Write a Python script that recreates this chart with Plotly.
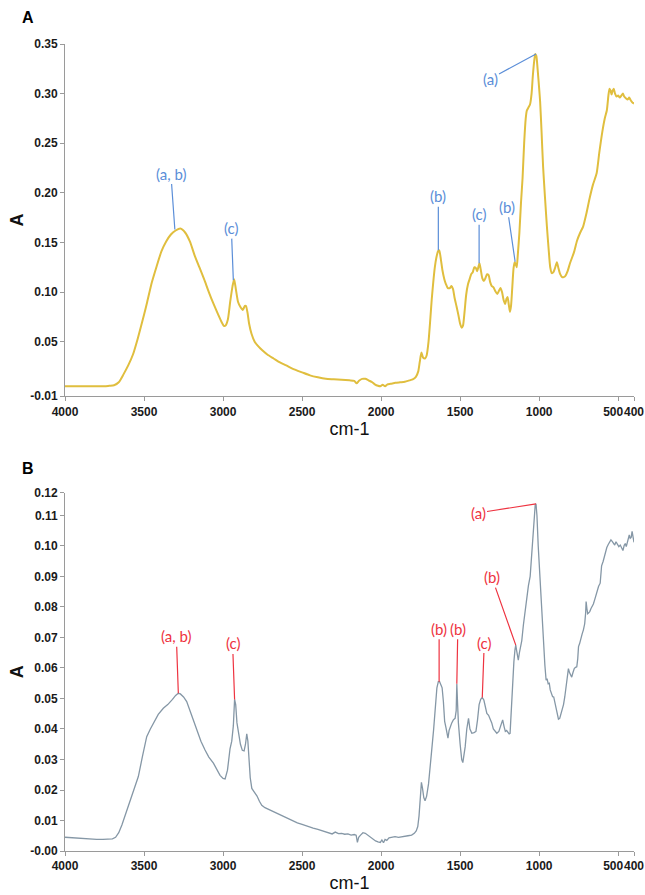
import plotly.graph_objects as go

# ---------------- data ----------------
wn_a = [4000, 3900, 3800, 3750, 3720, 3690, 3660, 3630, 3600, 3570, 3540, 3500, 3480, 3450, 3420, 3390,
        3360, 3330, 3300, 3270, 3240, 3210, 3180, 3150, 3120, 3090, 3060, 3030, 3010, 2995, 2985, 2970,
        2955, 2940, 2930, 2920, 2905, 2890, 2875, 2862, 2855, 2845, 2835, 2820, 2800, 2775, 2750, 2720,
        2680, 2640, 2600, 2550, 2500, 2450, 2400, 2350, 2300, 2250, 2200, 2170, 2155, 2140, 2120, 2100,
        2080, 2060, 2040, 2020, 2005, 1990, 1975, 1960, 1940, 1910, 1880, 1850, 1820, 1800, 1780, 1765,
        1755, 1745, 1735, 1722, 1712, 1700, 1690, 1680, 1670, 1660, 1650, 1640, 1632, 1622, 1612, 1600,
        1590, 1578, 1565, 1555, 1545, 1535, 1522, 1510, 1500, 1490, 1482, 1472, 1462, 1450, 1440, 1430,
        1420, 1410, 1400, 1393, 1385, 1378, 1370, 1360, 1350, 1340, 1330, 1320, 1310, 1300, 1290, 1278,
        1265, 1255, 1245, 1235, 1225, 1215, 1207, 1200, 1192, 1185, 1178, 1170, 1162, 1155, 1148, 1142,
        1135, 1125, 1115, 1105, 1095, 1085, 1078, 1068, 1058, 1048, 1040, 1032, 1025, 1018, 1010, 1000,
        994, 985, 975, 963, 951, 940, 930, 920, 910, 900, 888, 878, 867, 855, 845, 835, 820, 805, 780,
        760, 740, 722, 700, 680, 660, 636, 620, 600, 585, 572, 562, 555, 548, 542, 535, 528, 520, 510,
        500, 490, 480, 470, 462, 450, 440, 430, 420, 410, 400]
abs_a = [0.005, 0.005, 0.005, 0.005, 0.0055, 0.006, 0.009, 0.017, 0.026, 0.037, 0.053, 0.077, 0.09, 0.11,
         0.126, 0.141, 0.151, 0.158, 0.162, 0.164, 0.16, 0.151, 0.137, 0.125, 0.113, 0.1, 0.088, 0.077,
         0.07, 0.066, 0.066, 0.072, 0.09, 0.106, 0.113, 0.104, 0.09, 0.085, 0.082, 0.086, 0.086, 0.079,
         0.068, 0.058, 0.05, 0.045, 0.041, 0.037, 0.033, 0.029, 0.026, 0.022, 0.019, 0.016, 0.014, 0.0125,
         0.012, 0.0115, 0.011, 0.0105, 0.008, 0.0105, 0.0125, 0.0125, 0.011, 0.0095, 0.007, 0.0055, 0.005,
         0.0065, 0.005, 0.007, 0.0075, 0.0085, 0.009, 0.0095, 0.011, 0.012, 0.0145, 0.02, 0.03, 0.039,
         0.034, 0.033, 0.036, 0.05, 0.07, 0.092, 0.11, 0.125, 0.135, 0.141, 0.142, 0.133, 0.122, 0.113,
         0.108, 0.104, 0.104, 0.106, 0.103, 0.094, 0.085, 0.076, 0.068, 0.064, 0.066, 0.08, 0.097, 0.108,
         0.113, 0.118, 0.12, 0.125, 0.124, 0.121, 0.125, 0.129, 0.123, 0.114, 0.111, 0.114, 0.118, 0.117,
         0.11, 0.106, 0.105, 0.101, 0.098, 0.101, 0.104, 0.1, 0.092, 0.088, 0.093, 0.095, 0.087, 0.08,
         0.086, 0.105, 0.124, 0.13, 0.128, 0.125, 0.138, 0.16, 0.19, 0.215, 0.25, 0.275, 0.283, 0.286,
         0.289, 0.3, 0.318, 0.332, 0.34, 0.338, 0.325, 0.305, 0.292, 0.262, 0.226, 0.195, 0.166, 0.143,
         0.125, 0.119, 0.12, 0.124, 0.13, 0.124, 0.118, 0.115, 0.115, 0.116, 0.121, 0.129, 0.14, 0.152,
         0.16, 0.166, 0.18, 0.195, 0.208, 0.22, 0.24, 0.262, 0.275, 0.283, 0.298, 0.305, 0.303, 0.299,
         0.303, 0.305, 0.3, 0.297, 0.298, 0.296, 0.298, 0.3, 0.297, 0.295, 0.294, 0.296, 0.293, 0.291,
         0.29]

wn_b = [4000, 3950, 3900, 3850, 3800, 3760, 3730, 3700, 3680, 3660, 3640, 3620, 3600, 3580, 3557, 3536,
        3510, 3483, 3460, 3441, 3410, 3378, 3350, 3320, 3300, 3283, 3270, 3250, 3230, 3200, 3167, 3140,
        3114, 3090, 3061, 3040, 3019, 3000, 2987, 2972, 2956, 2945, 2935, 2927, 2920, 2912, 2903, 2890,
        2878, 2867, 2858, 2850, 2843, 2835, 2828, 2818, 2808, 2795, 2785, 2770, 2755, 2735, 2715, 2693,
        2670, 2640, 2610, 2589, 2560, 2530, 2500, 2480, 2458, 2430, 2400, 2370, 2350, 2329, 2310, 2290,
        2270, 2250, 2230, 2210, 2190, 2170, 2158, 2150, 2142, 2130, 2115, 2100, 2085, 2067, 2050, 2035,
        2020, 2005, 1995, 1985, 1975, 1964, 1950, 1935, 1912, 1890, 1873, 1850, 1830, 1807, 1790, 1778,
        1768, 1760, 1752, 1745, 1738, 1730, 1722, 1712, 1700, 1690, 1680, 1668, 1657, 1647, 1638, 1630,
        1622, 1614, 1606, 1598, 1590, 1584, 1577, 1570, 1562, 1553, 1543, 1532, 1525, 1521, 1516, 1511,
        1500, 1490, 1483, 1476, 1468, 1458, 1447, 1438, 1426, 1412, 1400, 1390, 1380, 1370, 1360, 1350,
        1340, 1331, 1320, 1310, 1300, 1290, 1280, 1268, 1255, 1245, 1238, 1231, 1222, 1214, 1206, 1198,
        1190, 1184, 1178, 1172, 1167, 1160, 1153, 1148, 1142, 1137, 1132, 1125, 1117, 1110, 1100, 1090,
        1079, 1068, 1057, 1048, 1040, 1032, 1025, 1020, 1014, 1006, 998, 990, 982, 972, 964, 956, 950,
        943, 936, 930, 922, 915, 908, 900, 893, 886, 878, 870, 862, 854, 846, 838, 830, 822, 815, 808,
        800, 794, 786, 778, 770, 762, 756, 751, 744, 736, 728, 720, 712, 706, 703, 698, 693, 688, 680,
        672, 664, 657, 648, 640, 632, 624, 614, 605, 595, 588, 580, 572, 563, 555, 546, 538, 530, 522,
        514, 505, 496, 487, 478, 470, 462, 455, 449, 440, 434, 430, 424, 418, 412, 406, 400]
abs_b = [0.0045, 0.0043, 0.0041, 0.004, 0.0038, 0.0038, 0.0038, 0.004, 0.0045, 0.006, 0.0085, 0.0115,
         0.0145, 0.0175, 0.021, 0.0244, 0.031, 0.0375, 0.04, 0.042, 0.0448, 0.0468, 0.048, 0.0497, 0.051,
         0.0517, 0.0515, 0.0505, 0.049, 0.0447, 0.0397, 0.036, 0.0331, 0.0308, 0.0288, 0.027, 0.0248,
         0.0238, 0.0236, 0.0265, 0.0335, 0.036, 0.041, 0.0497, 0.048, 0.042, 0.039, 0.035, 0.033, 0.0328,
         0.035, 0.0384, 0.036, 0.03, 0.024, 0.0205, 0.0198, 0.019, 0.018, 0.0163, 0.015, 0.0142, 0.0137,
         0.0132, 0.0125, 0.0117, 0.011, 0.0105, 0.0098, 0.0092, 0.0087, 0.0083, 0.0079, 0.0075, 0.0071,
         0.0066, 0.0063, 0.0061, 0.0056, 0.0062, 0.0057, 0.0058, 0.0055, 0.0056, 0.0052, 0.0054, 0.0052,
         0.0028, 0.0045, 0.0052, 0.006, 0.0058, 0.0052, 0.0047, 0.004, 0.0033, 0.003, 0.0028, 0.0036,
         0.0027, 0.0038, 0.0035, 0.0043, 0.0045, 0.0047, 0.0045, 0.0047, 0.0048, 0.005, 0.0052, 0.0058,
         0.0066, 0.008, 0.0115, 0.018, 0.0225, 0.0205, 0.0175, 0.0165, 0.018, 0.022, 0.0265, 0.033,
         0.0397, 0.047, 0.0535, 0.0555, 0.0555, 0.0545, 0.0535, 0.049, 0.0425, 0.0405, 0.0386, 0.037,
         0.0395, 0.041, 0.042, 0.043, 0.0435, 0.046, 0.0548, 0.048, 0.042, 0.035, 0.03, 0.029, 0.031,
         0.0342, 0.04, 0.0435, 0.04, 0.0386, 0.0388, 0.0392, 0.043, 0.048, 0.0497, 0.0503, 0.0495, 0.0472,
         0.0451, 0.0445, 0.0432, 0.042, 0.04, 0.0392, 0.0386, 0.0392, 0.041, 0.0425, 0.043, 0.0408, 0.0392,
         0.0395, 0.0388, 0.0384, 0.0386, 0.045, 0.052, 0.056, 0.062, 0.066, 0.0675, 0.0655, 0.0632, 0.0626,
         0.065, 0.067, 0.069, 0.074, 0.078, 0.0834, 0.087, 0.09, 0.096, 0.103, 0.109, 0.1135, 0.1138, 0.11,
         0.1, 0.092, 0.083, 0.075, 0.067, 0.061, 0.056, 0.0565, 0.0548, 0.055, 0.0528, 0.0515, 0.0506,
         0.0505, 0.0488, 0.047, 0.0455, 0.0432, 0.0435, 0.045, 0.0468, 0.048, 0.0505, 0.0535, 0.058, 0.0598,
         0.0585, 0.0575, 0.057, 0.0585, 0.0598, 0.0602, 0.0604, 0.063, 0.067, 0.068, 0.07, 0.0712, 0.0725,
         0.0745, 0.078, 0.0818, 0.0795, 0.0778, 0.078, 0.0785, 0.0795, 0.0802, 0.081, 0.0825, 0.084,
         0.0855, 0.0868, 0.0878, 0.0935, 0.095, 0.0965, 0.0976, 0.0995, 0.1005, 0.1015, 0.102, 0.1015,
         0.1008, 0.1003, 0.1014, 0.1005, 0.0998, 0.1003, 0.099, 0.0985, 0.1002, 0.1008, 0.0998, 0.1015,
         0.1032, 0.1036, 0.1025, 0.1028, 0.1048, 0.103, 0.1012]

x_tick_vals = [4000, 3500, 3000, 2500, 2000, 1500, 1000, 500, 400]
x_tick_text = ["4000", "3500", "3000", "2500", "2000", "1500", "1000",
               "500\u00a0\u00a0\u00a0", "400"]
ya_tick_vals = [-0.005, 0.05, 0.10, 0.15, 0.20, 0.25, 0.30, 0.35]
ya_tick_text = ["-0.01", "0.05", "0.10", "0.15", "0.20", "0.25", "0.30", "0.35"]
yb_tick_vals = [0.0, 0.01, 0.02, 0.03, 0.04, 0.05, 0.06, 0.07, 0.08, 0.09, 0.10, 0.11, 0.1175]
yb_tick_text = ["-0.00", "0.01", "0.02", "0.03", "0.04", "0.05", "0.06", "0.07", "0.08", "0.09",
                "0.10", "0.11", "0.12"]

ann_a_text = ["(a)", "(a, b)", "(c)", "(b)", "(c)", "(b)"]
ann_a_wn = [1020, 3305, 2935, 1638, 1380, 1152]
ann_a_val = [0.34, 0.163, 0.112, 0.142, 0.129, 0.1305]

ann_b_text = ["(a)", "(b)", "(a, b)", "(c)", "(b)", "(b)", "(c)"]
ann_b_wn = [1020, 1148, 3283, 2927, 1633, 1521, 1360]
ann_b_val = [0.1138, 0.0675, 0.0517, 0.0497, 0.0555, 0.0548, 0.0503]

# ---------------- styling / layout ----------------
W, H = 645, 895
ML, MR = 65, 11
TICK_FONT = dict(family="Liberation Sans Narrow, Arial Narrow, Liberation Sans, Arial, sans-serif",
                 size=12, color="#1a1a1a", weight="bold")
TITLE_FONT = dict(family="Liberation Sans Narrow, Arial Narrow, Liberation Sans, Arial, sans-serif",
                  size=18, color="#111111")
LABEL_FONT = "Lato, Open Sans, sans-serif"
COL_A = "#E0BE3E"
COL_B = "#8597A6"
ANN_A = "#5B8ED8"
ANN_B = "#EE3340"

# pixel offsets for annotation labels (text centre relative to the marked point)
off_a = [(-46, 25), (-4, -56), (-2, -52), (0, -54), (0, -49), (-8, -55)]
off_b = [(-58, 9), (-24, -68), (-2, -57), (-2, -56), (0, -53), (1, -55), (2, -55)]


def pdy(px_from_top):
    return (H - px_from_top) / H


fig = go.Figure()
fig.add_trace(go.Scatter(x=wn_a, y=abs_a, mode="lines",
                         line=dict(color=COL_A, width=2, shape="spline", smoothing=0.6),
                         xaxis="x", yaxis="y", showlegend=False, hoverinfo="skip"))
fig.add_trace(go.Scatter(x=wn_b, y=abs_b, mode="lines", line=dict(color=COL_B, width=1.3),
                         xaxis="x2", yaxis="y2", showlegend=False, hoverinfo="skip"))

axis_common = dict(showgrid=False, zeroline=False, showline=True, linecolor="#9a9a9a", linewidth=1,
                   ticks="outside", ticklen=4, tickcolor="#9a9a9a", tickwidth=1, tickfont=TICK_FONT,
                   automargin=False)

fig.update_layout(
    width=W, height=H,
    margin=dict(l=ML, r=MR, t=0, b=0, pad=0),
    paper_bgcolor="white", plot_bgcolor="white",
    xaxis=dict(axis_common, domain=[0, 1], anchor="y", range=[4000, 400], tickmode="array",
               tickvals=x_tick_vals, ticktext=x_tick_text, tickangle=0,
               title=dict(text="cm-1", font=TITLE_FONT, standoff=2)),
    yaxis=dict(axis_common, domain=[pdy(396.2), pdy(44)], anchor="x", range=[-0.005, 0.35],
               tickmode="array", tickvals=ya_tick_vals, ticktext=ya_tick_text,
               title=dict(text="<b>A</b>", font=TITLE_FONT, standoff=1)),
    xaxis2=dict(axis_common, domain=[0, 1], anchor="y2", range=[4000, 400], tickmode="array",
                tickvals=x_tick_vals, ticktext=x_tick_text, tickangle=0,
                title=dict(text="cm-1", font=TITLE_FONT, standoff=2)),
    yaxis2=dict(axis_common, domain=[pdy(851), pdy(492.6)], anchor="x2", range=[0, 0.1175],
                tickmode="array", tickvals=yb_tick_vals, ticktext=yb_tick_text,
                title=dict(text="<b>A</b>", font=TITLE_FONT, standoff=1)),
)

anns = []
for t, xv, yv, (ax, ay) in zip(ann_a_text, ann_a_wn, ann_a_val, off_a):
    anns.append(dict(x=xv, y=yv, xref="x", yref="y", text=t, showarrow=True, arrowhead=0,
                     arrowwidth=1.2, arrowcolor=ANN_A, ax=ax, ay=ay, standoff=0, startstandoff=0,
                     font=dict(family=LABEL_FONT, size=15, color=ANN_A), borderpad=1))
for t, xv, yv, (ax, ay) in zip(ann_b_text, ann_b_wn, ann_b_val, off_b):
    anns.append(dict(x=xv, y=yv, xref="x2", yref="y2", text=t, showarrow=True, arrowhead=0,
                     arrowwidth=1.2, arrowcolor=ANN_B, ax=ax, ay=ay, standoff=0, startstandoff=0,
                     font=dict(family=LABEL_FONT, size=15, color=ANN_B), borderpad=1))

# panel letters
for letter, ypx in (("A", 18), ("B", 468)):
    anns.append(dict(x=(28 - ML) / (W - ML - MR), y=pdy(ypx), xref="paper", yref="paper",
                     text="<b>%s</b>" % letter, showarrow=False, xanchor="center", yanchor="middle",
                     font=dict(family="Liberation Sans, Arial, sans-serif", size=16, color="#000000")))

fig.update_layout(annotations=anns)
fig.write_html("out.html", config={"displayModeBar": False},
               post_script="document.body.style.margin='0px';")
